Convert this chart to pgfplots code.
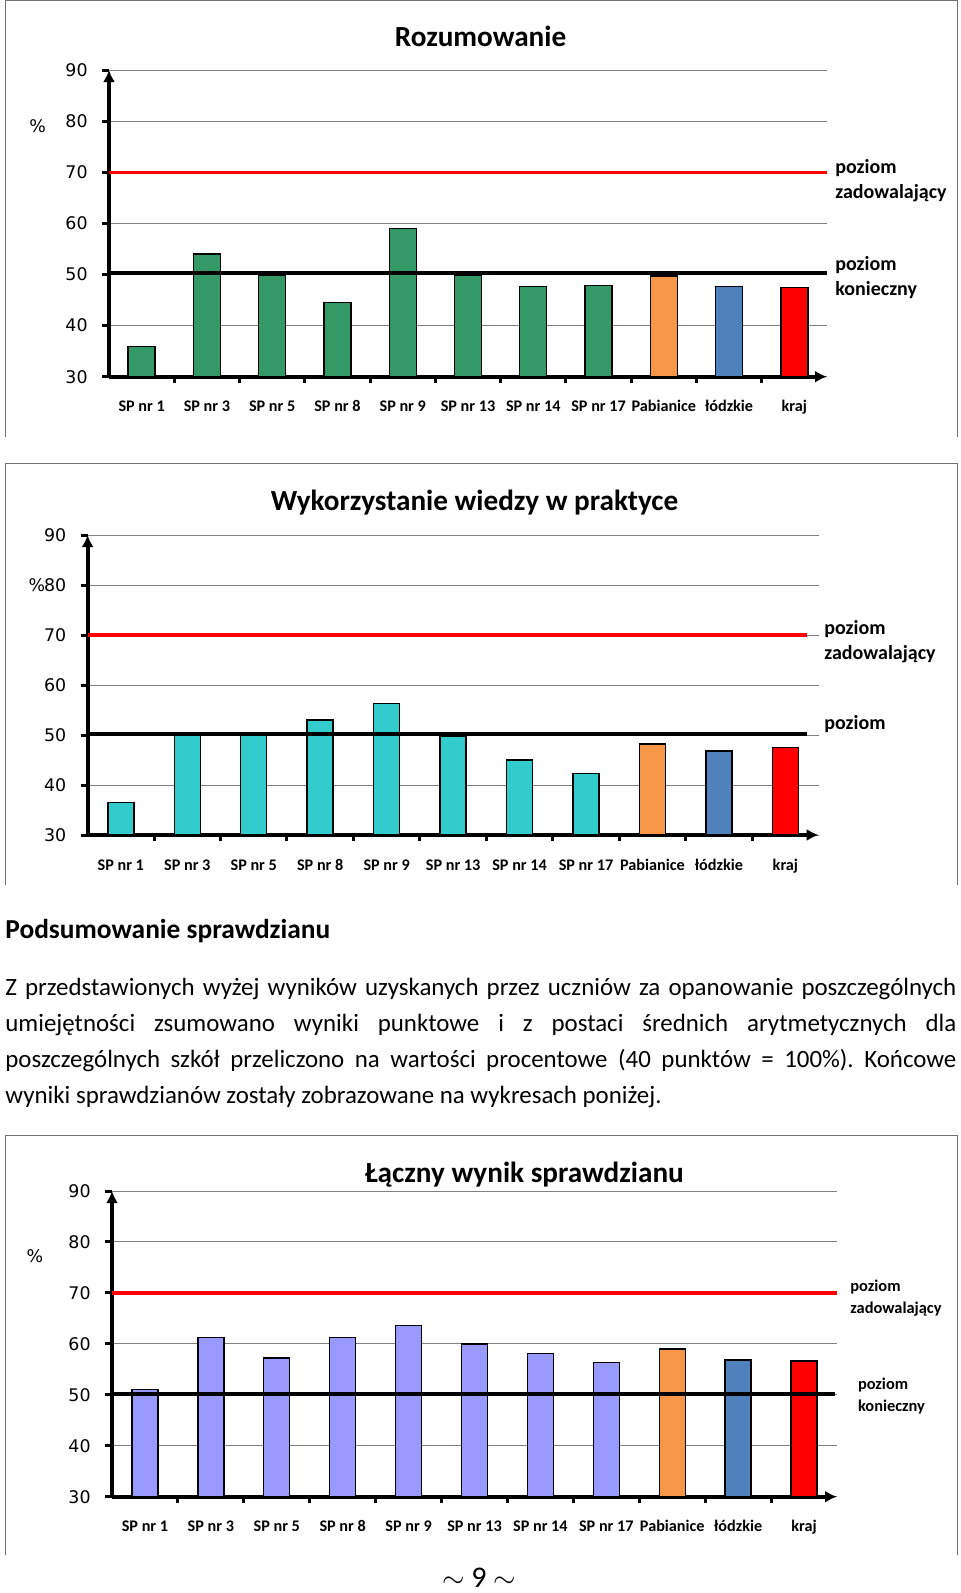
\documentclass[border=0pt]{standalone}
\usepackage{fontspec}
\setmainfont{Carlito}
\newfontfamily\dv{DejaVu Sans}
\usepackage{pgfplots}
\pgfplotsset{compat=1.18}
\usetikzlibrary{arrows.meta}
\frenchspacing

\definecolor{zielony}{HTML}{339966}
\definecolor{turkus}{HTML}{33CCCC}
\definecolor{fiolet}{HTML}{9999FF}
\definecolor{pomar}{HTML}{F79646}
\definecolor{nieb}{HTML}{4F81BD}
\definecolor{czerw}{HTML}{FF0000}

% wspolny styl trzech wykresow (1 px obrazka = 0.5pt)
\pgfplotsset{
  wykres/.style={
    scale only axis, anchor=south west,
    xmin=-0.5, xmax=10.5, ymin=30, ymax=90,
    axis lines=left,
    axis line style={line width=2pt, -{Latex[length=6pt,width=6pt]}},
    ybar,
    ytick={30,40,...,90},
    xtick={0,...,10},
    xticklabels={SP nr 1,SP nr 3,SP nr 5,SP nr 8,SP nr 9,SP nr 13,SP nr 14,SP nr 17,Pabianice,łódzkie,kraj},
    minor xtick={0.5,1.5,...,9.5},
    tick align=outside,
    major tick length=3.5pt, minor tick length=3pt,
    every major x tick/.append style={draw=none},
    every major y tick/.append style={line width=1.5pt, black},
    every minor x tick/.append style={line width=1.5pt, black},
    ymajorgrids, grid style={gray, line width=0.5pt},
    /pgf/number format/assume math mode=true,
    yticklabel style={font=\dv\fontsize{8.7}{10}\selectfont, anchor=east, inner sep=0pt, xshift=-7pt},
    xticklabel style={font=\bfseries\fontsize{8.1}{10}\selectfont, anchor=base, inner sep=0pt, yshift=-14pt},
  },
  slupek/.style={fill=#1, draw=black, line width=0.7pt, bar shift=0pt, bar width=13.5pt},
  poziom/.style={sharp plot, no marks, line width=#1, forget plot},
}

\begin{document}
\begin{tikzpicture}
\path[use as bounding box] (0,0) rectangle (480pt,-796.5pt);

% ramki wykresow
\draw[black!55, line width=0.5pt] (2.5pt,-218.5pt) -- (2.5pt,-0.5pt) -- (478.5pt,-0.5pt) -- (478.5pt,-218.5pt);
\draw[black!55, line width=0.5pt] (2.5pt,-442.5pt) -- (2.5pt,-231.5pt) -- (478.5pt,-231.5pt) -- (478.5pt,-442.5pt);
\draw[black!55, line width=0.5pt] (2.5pt,-777.5pt) -- (2.5pt,-567.5pt) -- (478.5pt,-567.5pt) -- (478.5pt,-777.5pt);

% ---------- Rozumowanie ----------
\begin{axis}[wykres, at={(54.5pt,-188.35pt)}, width=359pt, height=153.35pt]
\addplot[slupek=zielony] coordinates {(0,35.9) (1,54.0) (2,49.9) (3,44.5) (4,59.0) (5,49.8) (6,47.7) (7,47.9)};
\addplot[slupek=pomar] coordinates {(8,49.7)};
\addplot[slupek=nieb] coordinates {(9,47.7)};
\addplot[slupek=czerw] coordinates {(10,47.5)};
\addplot[poziom=1.7pt, czerw] coordinates {(-0.5,70) (10.5,70)};
\addplot[poziom=2pt, black] coordinates {(-0.5,50.25) (10.5,50.25)};
\end{axis}
\node[anchor=base, font=\bfseries\fontsize{14.6}{17}\selectfont] at (240.3pt,-23.5pt) {Rozumowanie};
\node[font=\dv\fontsize{8.7}{10}\selectfont] at (18.8pt,-63.3pt) {\%};
\node[anchor=west, align=left, inner sep=0pt, font=\bfseries\fontsize{10}{12.5}\selectfont] at (417.5pt,-90.25pt) {poziom\\zadowalający};
\node[anchor=west, align=left, inner sep=0pt, font=\bfseries\fontsize{10}{12.5}\selectfont] at (417.5pt,-138.75pt) {poziom\\konieczny};

% ---------- Wykorzystanie wiedzy w praktyce ----------
\begin{axis}[wykres, at={(43.8pt,-417.5pt)}, width=365.5pt, height=150pt]
\addplot[slupek=turkus, bar width=13pt] coordinates {(0,36.5) (1,50.0) (2,50.0) (3,53.0) (4,56.3) (5,49.8) (6,45.0) (7,42.3)};
\addplot[slupek=pomar, bar width=13pt] coordinates {(8,48.2)};
\addplot[slupek=nieb, bar width=13pt] coordinates {(9,46.8)};
\addplot[slupek=czerw, bar width=13pt] coordinates {(10,47.5)};
\addplot[poziom=1.7pt, czerw] coordinates {(-0.5,70) (10.32,70)};
\addplot[poziom=2pt, black] coordinates {(-0.5,50.25) (10.32,50.25)};
\end{axis}
\node[anchor=base, font=\bfseries\fontsize{14.6}{17}\selectfont] at (237.3pt,-255pt) {Wykorzystanie wiedzy w praktyce};
\node[anchor=east, inner sep=0pt, font=\dv\fontsize{8.7}{10}\selectfont] at (22.8pt,-292.5pt) {\%};
\node[anchor=west, align=left, inner sep=0pt, font=\bfseries\fontsize{10}{12.5}\selectfont] at (412pt,-320.75pt) {poziom\\zadowalający};
\node[anchor=west, align=left, inner sep=0pt, font=\bfseries\fontsize{10}{12.5}\selectfont] at (412pt,-362pt) {poziom};

% ---------- Podsumowanie ----------
\node[anchor=base west, inner sep=0pt, font=\bfseries\fontsize{13.7}{16}\selectfont] at (2.5pt,-469pt) {Podsumowanie sprawdzianu};
\node[anchor=base west, inner sep=0pt, font=\fontsize{12.45}{18}\selectfont] at (2.5pt,-497.5pt)
  {\makebox[475.5pt][s]{Z przedstawionych wyżej wyników uzyskanych przez uczniów za opanowanie poszczególnych}};
\node[anchor=base west, inner sep=0pt, font=\fontsize{12.45}{18}\selectfont] at (2.5pt,-515.5pt)
  {\makebox[475.5pt][s]{umiejętności zsumowano wyniki punktowe i z postaci średnich arytmetycznych dla}};
\node[anchor=base west, inner sep=0pt, font=\fontsize{12.45}{18}\selectfont] at (2.5pt,-533.5pt)
  {\makebox[475.5pt][s]{poszczególnych szkół przeliczono na wartości procentowe (40 punktów = 100\%). Końcowe}};
\node[anchor=base west, inner sep=0pt, font=\fontsize{12.45}{18}\selectfont] at (2.5pt,-551.5pt)
  {wyniki sprawdzianów zostały zobrazowane na wykresach poniżej.};

% ---------- Laczny wynik sprawdzianu ----------
\begin{axis}[wykres, at={(56pt,-748.35pt)}, width=362.5pt, height=152.85pt]
\addplot[slupek=fiolet, bar width=13pt] coordinates {(0,51.1) (1,61.2) (2,57.2) (3,61.2) (4,63.6) (5,60.0) (6,58.1) (7,56.4)};
\addplot[slupek=pomar, bar width=13pt] coordinates {(8,59.0)};
\addplot[slupek=nieb, bar width=13pt] coordinates {(9,56.8)};
\addplot[slupek=czerw, bar width=13pt] coordinates {(10,56.6)};
\addplot[poziom=1.7pt, czerw] coordinates {(-0.5,70) (10.5,70)};
\addplot[poziom=2pt, black] coordinates {(-0.5,50.2) (10.47,50.2)};
\end{axis}
\node[anchor=base, font=\bfseries\fontsize{14.6}{17}\selectfont] at (262.2pt,-591pt) {Łączny wynik sprawdzianu};
\node[font=\dv\fontsize{8.7}{10}\selectfont] at (17.5pt,-628.3pt) {\%};
\node[anchor=west, align=left, inner sep=0pt, font=\bfseries\fontsize{8.2}{11}\selectfont] at (425pt,-649pt) {poziom\\zadowalający};
\node[anchor=west, align=left, inner sep=0pt, font=\bfseries\fontsize{8.2}{11}\selectfont] at (428.8pt,-698pt) {poziom\\konieczny};

\node[anchor=base, inner sep=0pt, font=\fontsize{15}{18}\selectfont] at (239.5pt,-793.5pt) {$\sim$ 9 $\sim$};
\end{tikzpicture}
\end{document}
